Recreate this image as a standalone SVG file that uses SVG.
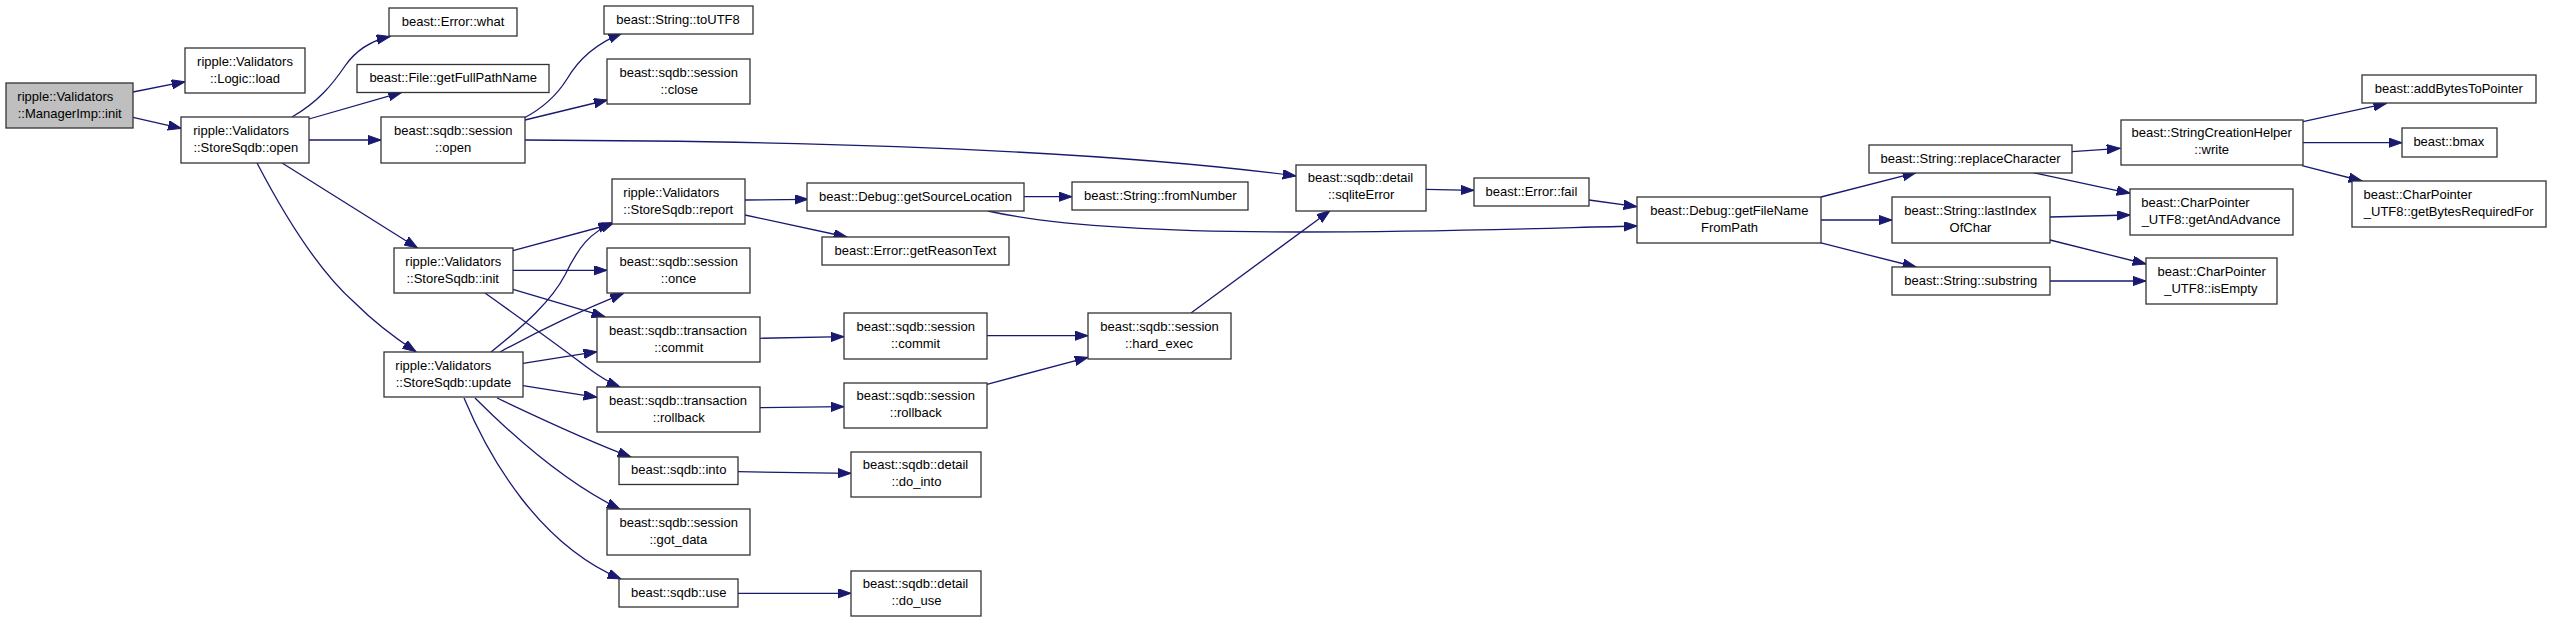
<svg xmlns="http://www.w3.org/2000/svg" width="2552" height="621" viewBox="0 0 2552 621">
<style>
rect{fill:#fff;stroke:#333;stroke-width:1.3}
rect.root{fill:#bfbfbf}
text{font-family:"Liberation Sans",Arial,Helvetica,sans-serif;font-size:13px;fill:#000;text-anchor:middle}
#edges path{fill:none;stroke:#191970;stroke-width:1.3;marker-end:url(#a)}
</style>
<defs>
<marker id="a" markerWidth="14" markerHeight="10" refX="13.3" refY="4.7" orient="auto" markerUnits="userSpaceOnUse"><path d="M0,0 L13.3,4.7 L0,9.4 z" fill="#191970" stroke="#191970" stroke-width="1"/></marker>
</defs>
<rect x="0" y="0" width="2552" height="621" style="fill:#fff;stroke:none"/>
<g id="edges">
<path d="M133,92 L185,81.7"/>
<path d="M133,117.3 L181.3,128.3"/>
<path d="M292,117 C318,102 332,85 345,66 C356,50 370,41 390,36.5"/>
<path d="M309,119 L401.7,92.3"/>
<path d="M309,140 L381,140"/>
<path d="M281.7,162.7 L417.5,248"/>
<path d="M257,163 C280,207 315,268 355,303 C372,320 392,336 416,351.7"/>
<path d="M524,118 C545,107 557,95 567,79 C578,60 595,44 621.7,33.3"/>
<path d="M525,120 L607.3,100"/>
<path d="M525,140 C800,141 1100,150 1296,176"/>
<path d="M513,250.7 L611.7,224"/>
<path d="M513,270.3 L607,270.3"/>
<path d="M513,289.3 L605,316.7"/>
<path d="M485,293 C520,318 555,343 580,362 C593,372 605,381 620,387"/>
<path d="M491,352 C525,325 552,300 565,275 C578,248 590,232 614,222.5"/>
<path d="M500,352 C540,330 585,309 623.5,293.3"/>
<path d="M523,363.3 L597,351.7"/>
<path d="M523,385.7 L597,397.3"/>
<path d="M497,398 C535,416 585,440 631,457"/>
<path d="M475,398 C505,428 560,480 620,509.3"/>
<path d="M464,398 C490,460 540,545 621,579"/>
<path d="M745,200 L808,199.3"/>
<path d="M745,215 L847,237"/>
<path d="M1024,196.7 L1072,196.7"/>
<path d="M988,211 C1050,225 1150,232 1300,232 C1450,232 1550,228 1637,226"/>
<path d="M760,338.3 L844,336.7"/>
<path d="M760,407.7 L844,406.7"/>
<path d="M738,471.7 L851,473.3"/>
<path d="M738,593.3 L851,593.3"/>
<path d="M987,335.7 L1088,335.7"/>
<path d="M987,384.3 L1088,357.3"/>
<path d="M1191,313 L1330,210.7"/>
<path d="M1426,189.3 L1474,190.3"/>
<path d="M1589,200 L1637,206.7"/>
<path d="M1821,197 L1916,172.7"/>
<path d="M1821,220 L1892,220"/>
<path d="M1820,242.7 L1916,267"/>
<path d="M2072,151.7 L2120,148.3"/>
<path d="M2033,172.7 L2130,193.3"/>
<path d="M2050,217 L2130,215"/>
<path d="M2050,240 L2146,264"/>
<path d="M2050,281 L2146,281"/>
<path d="M2303,121.7 L2386.7,103.3"/>
<path d="M2303,142.7 L2402,142.7"/>
<path d="M2302,165.7 L2362,181"/>
</g>
<g id="n_init"><rect class="root" x="6" y="83" width="127" height="45"/><text x="65.3" y="100.5">ripple::Validators</text><text x="69.7" y="117.5">::ManagerImp::init</text></g>
<g id="n_load"><rect x="185" y="48" width="120" height="45"/><text x="245" y="65.5">ripple::Validators</text><text x="245" y="82.5">::Logic::load</text></g>
<g id="n_open"><rect x="181" y="117" width="128" height="46"/><text x="241.2" y="134.5">ripple::Validators</text><text x="245.8" y="151.5">::StoreSqdb::open</text></g>
<g id="n_what"><rect x="389" y="8" width="128" height="28"/><text x="453" y="25.7">beast::Error::what</text></g>
<g id="n_fullpath"><rect x="357" y="64.5" width="192" height="28"/><text x="453.2" y="82">beast::File::getFullPathName</text></g>
<g id="n_sopen"><rect x="381" y="117" width="144" height="46"/><text x="453.3" y="134.5">beast::sqdb::session</text><text x="453.2" y="151.5">::open</text></g>
<g id="n_sinit"><rect x="394" y="248" width="119" height="45"/><text x="453.3" y="265.5">ripple::Validators</text><text x="452.7" y="282.5">::StoreSqdb::init</text></g>
<g id="n_update"><rect x="384" y="352" width="139" height="45"/><text x="443.3" y="369.5">ripple::Validators</text><text x="453.5" y="386.5">::StoreSqdb::update</text></g>
<g id="n_toutf8"><rect x="604" y="6" width="149" height="28"/><text x="678" y="23.7">beast::String::toUTF8</text></g>
<g id="n_close"><rect x="607" y="59" width="143" height="45"/><text x="678.7" y="76.5">beast::sqdb::session</text><text x="679.2" y="93.5">::close</text></g>
<g id="n_report"><rect x="612" y="179" width="133" height="45"/><text x="671.3" y="196.5">ripple::Validators</text><text x="678.2" y="213.5">::StoreSqdb::report</text></g>
<g id="n_once"><rect x="607" y="248" width="143" height="45"/><text x="678.7" y="265.5">beast::sqdb::session</text><text x="678.5" y="282.5">::once</text></g>
<g id="n_tcommit"><rect x="597" y="317" width="163" height="45"/><text x="678" y="334.5">beast::sqdb::transaction</text><text x="678.7" y="351.5">::commit</text></g>
<g id="n_trollback"><rect x="597" y="387" width="163" height="45"/><text x="678" y="404.5">beast::sqdb::transaction</text><text x="678.8" y="421.5">::rollback</text></g>
<g id="n_into"><rect x="619" y="457" width="119" height="27.5"/><text x="678.7" y="474.4">beast::sqdb::into</text></g>
<g id="n_gotdata"><rect x="607" y="509" width="143" height="46"/><text x="678.7" y="526.5">beast::sqdb::session</text><text x="678.3" y="543.5">::got_data</text></g>
<g id="n_use"><rect x="619" y="579" width="119" height="28"/><text x="678.7" y="596.6">beast::sqdb::use</text></g>
<g id="n_srcloc"><rect x="807" y="183" width="217" height="28"/><text x="915.6" y="200.7">beast::Debug::getSourceLocation</text></g>
<g id="n_reason"><rect x="822" y="237" width="187" height="28"/><text x="915.5" y="254.6">beast::Error::getReasonText</text></g>
<g id="n_fromnum"><rect x="1072" y="182" width="176" height="28"/><text x="1160.3" y="199.6">beast::String::fromNumber</text></g>
<g id="n_scommit"><rect x="844" y="313" width="143" height="46"/><text x="915.7" y="330.8">beast::sqdb::session</text><text x="915.5" y="347.8">::commit</text></g>
<g id="n_srollback"><rect x="844" y="383" width="143" height="45"/><text x="915.7" y="400.2">beast::sqdb::session</text><text x="915.8" y="417.2">::rollback</text></g>
<g id="n_dointo"><rect x="851" y="452" width="130" height="45"/><text x="915.5" y="469.2">beast::sqdb::detail</text><text x="916.5" y="486.2">::do_into</text></g>
<g id="n_douse"><rect x="851" y="571" width="130" height="45"/><text x="915.5" y="588.2">beast::sqdb::detail</text><text x="916.5" y="605.2">::do_use</text></g>
<g id="n_hardexec"><rect x="1088" y="313" width="143" height="46"/><text x="1159.5" y="330.8">beast::sqdb::session</text><text x="1159" y="347.8">::hard_exec</text></g>
<g id="n_sqlerr"><rect x="1296" y="165" width="130" height="46"/><text x="1360.5" y="182.2">beast::sqdb::detail</text><text x="1361.2" y="199.2">::sqliteError</text></g>
<g id="n_fail"><rect x="1474" y="178" width="115" height="28"/><text x="1531.5" y="195.6">beast::Error::fail</text></g>
<g id="n_fnpath"><rect x="1637" y="197" width="184" height="46"/><text x="1729.3" y="214.5">beast::Debug::getFileName</text><text x="1729.5" y="231.5">FromPath</text></g>
<g id="n_replace"><rect x="1869" y="145" width="203" height="28"/><text x="1970.5" y="162.6">beast::String::replaceCharacter</text></g>
<g id="n_lastidx"><rect x="1892" y="197" width="158" height="46"/><text x="1970.3" y="214.5">beast::String::lastIndex</text><text x="1970.5" y="231.5">OfChar</text></g>
<g id="n_substr"><rect x="1892" y="267" width="158" height="28"/><text x="1970.8" y="284.6">beast::String::substring</text></g>
<g id="n_write"><rect x="2121" y="120" width="182" height="45"/><text x="2211.7" y="137.2">beast::StringCreationHelper</text><text x="2211.7" y="154.2">::write</text></g>
<g id="n_getadv"><rect x="2130" y="189" width="163" height="46"/><text x="2195.5" y="206.5">beast::CharPointer</text><text x="2211" y="223.5">_UTF8::getAndAdvance</text></g>
<g id="n_isempty"><rect x="2146" y="258" width="131" height="46"/><text x="2211.7" y="275.5">beast::CharPointer</text><text x="2210.8" y="292.5">_UTF8::isEmpty</text></g>
<g id="n_addbytes"><rect x="2362" y="75" width="174" height="28"/><text x="2448.8" y="92.8">beast::addBytesToPointer</text></g>
<g id="n_bmax"><rect x="2402" y="128" width="95" height="29"/><text x="2448.8" y="146">beast::bmax</text></g>
<g id="n_bytesreq"><rect x="2352" y="181" width="194" height="46"/><text x="2417.8" y="198.5">beast::CharPointer</text><text x="2448.7" y="215.5">_UTF8::getBytesRequiredFor</text></g>
</svg>
